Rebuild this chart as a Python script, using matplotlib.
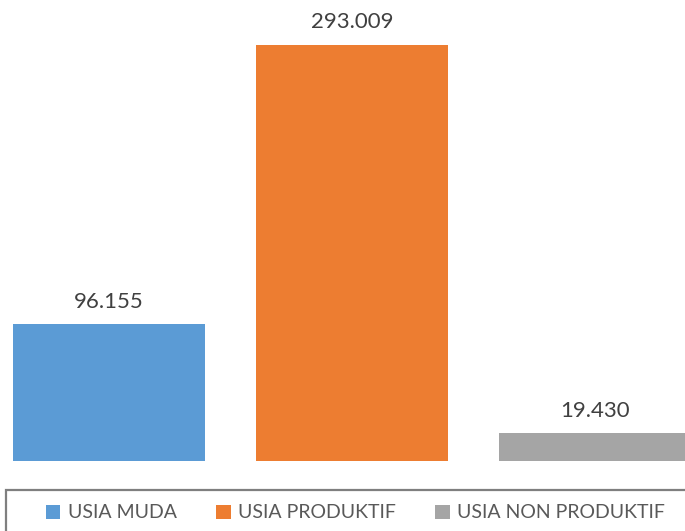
import matplotlib
matplotlib.use('Agg')
import matplotlib.pyplot as plt
from matplotlib.patches import Rectangle, Patch

# Data
categories = ['USIA MUDA', 'USIA PRODUKTIF', 'USIA NON PRODUKTIF']
values = [96.155, 293.009, 19.430]
value_labels = ['96.155', '293.009', '19.430']
colors = ['#5B9BD5', '#ED7D31', '#A5A5A5']

plt.rcParams['font.family'] = ['Lato', 'DejaVu Sans']

fig = plt.figure(figsize=(6.85, 5.31), dpi=100)
ax = fig.add_axes([0, 70 / 531, 1, 461 / 531])

x = range(len(categories))
ax.bar(x, values, width=0.79, color=colors)
for xi, v, lab in zip(x, values, value_labels):
    ax.annotate(lab, (xi, v), xytext=(0, 9), textcoords='offset points',
                ha='center', va='bottom', fontsize=16, color='#404040')

ax.set_xlim(-109 / 243, (685 - 109) / 243)
ax.set_ylim(0, 461 / 1.42)
ax.axis('off')

# legend box (cut by the image edge like the reference)
fig.patches.append(Rectangle((6 / 685, -0.1), 1.0, (531 - 490) / 531 + 0.1,
                             transform=fig.transFigure, fill=False,
                             edgecolor='#7F7F7F', linewidth=1.6))
handles = [Patch(facecolor=c) for c in colors]
fig.legend(handles, categories, loc='center', bbox_to_anchor=(0.519, 18 / 531),
           ncol=3, frameon=False, fontsize=14, labelcolor='#595959',
           handlelength=0.75, handleheight=0.75, handletextpad=0.4,
           columnspacing=2.0, borderpad=0)

fig.savefig('out.png', dpi=100)
